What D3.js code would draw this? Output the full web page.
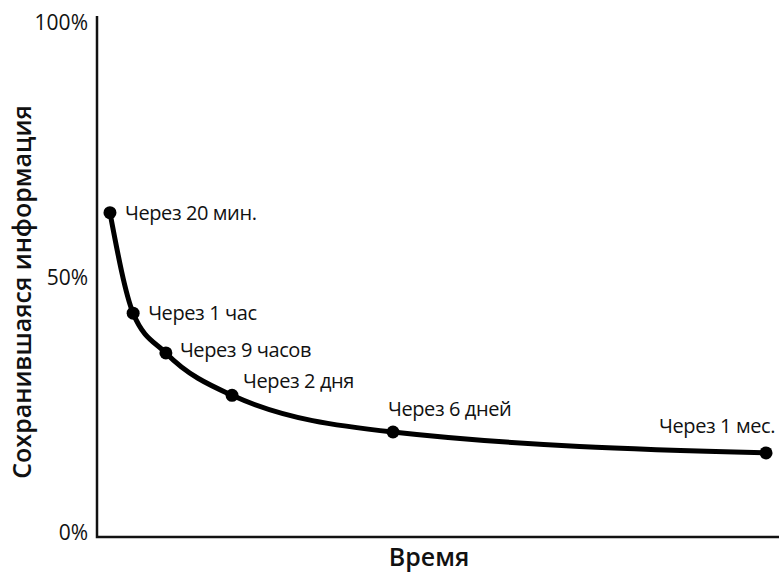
<!DOCTYPE html>
<html>
<head>
  <meta charset="utf-8">
  <script src="https://d3js.org/d3.v7.min.js"></script>
  <style>
    body { margin: 0; background: #fff; }
    text { font-family: "Open Sans", Lato, sans-serif; fill: #111; }
    .tick-label { font-size: 21px; font-weight: 400; }
    .pt-label { font-size: 20px; letter-spacing: -0.4px; }
    .title { font-size: 25px; font-weight: 600; }
  </style>
</head>
<body>
  <script>
    // data
    var labels = ["Через 20 мин.", "Через 1 час", "Через 9 часов", "Через 2 дня", "Через 6 дней", "Через 1 мес."];
    var timePos = [1.9, 5.3, 10.1, 19.8, 43.4, 98.1];   // relative position along time axis (0..100)
    var retained = [62.8, 43.1, 35.3, 27.0, 19.8, 15.7]; // %
    var yTicks = [0, 50, 100];

    // label placement: [anchor, dx, dy]
    var placement = [
      ["start", 15, 0],
      ["start", 15, 0],
      ["start", 14, -3],
      ["start", 11, -14],
      ["start", -5, -23],
      ["end", 9, -27]
    ];

    var W = 779, H = 573;
    var margin = {top: 16, right: 0, bottom: 36, left: 97};

    var svg = d3.select("body").append("svg")
        .attr("width", W)
        .attr("height", H);

    var x = d3.scaleLinear().domain([0, 100]).range([margin.left, W - margin.right]);
    var y = d3.scaleLinear().domain([0, 100]).range([533, 23]);

    var axisY = H - margin.bottom; // 537

    // axes lines
    svg.append("path")
        .attr("d", "M" + margin.left + "," + margin.top + "V" + axisY + "H" + W)
        .attr("fill", "none")
        .attr("stroke", "#111")
        .attr("stroke-width", 2.5);

    svg.selectAll(".tick-label")
        .data(yTicks)
        .enter().append("text")
        .attr("class", "tick-label")
        .attr("x", 88)
        .attr("y", d => y(d))
        .attr("dy", "0.35em")
        .attr("text-anchor", "end")
        .text(d => d + "%");

    var data = labels.map((l, i) => ({label: l, t: timePos[i], v: retained[i]}));

    var line = d3.line()
        .x(d => x(d.t))
        .y(d => y(d.v))
        .curve(d3.curveMonotoneX);

    svg.append("path")
        .datum(data)
        .attr("d", line)
        .attr("fill", "none")
        .attr("stroke", "#000")
        .attr("stroke-width", 5)
        .attr("stroke-linecap", "round");

    svg.selectAll(".dot")
        .data(data)
        .enter().append("circle")
        .attr("class", "dot")
        .attr("cx", d => x(d.t))
        .attr("cy", d => y(d.v))
        .attr("r", 6.5)
        .attr("fill", "#000");

    svg.selectAll(".pt-label")
        .data(data)
        .enter().append("text")
        .attr("class", "pt-label")
        .attr("x", (d, i) => x(d.t) + placement[i][1])
        .attr("y", (d, i) => y(d.v) + placement[i][2])
        .attr("dy", "0.35em")
        .attr("text-anchor", (d, i) => placement[i][0])
        .text(d => d.label);

    svg.append("text")
        .attr("class", "title")
        .attr("x", 429)
        .attr("y", 566)
        .attr("text-anchor", "middle")
        .text("Время");

    svg.append("text")
        .attr("class", "title")
        .attr("transform", "translate(22,292) rotate(-90)")
        .attr("dy", "0.35em")
        .attr("text-anchor", "middle")
        .text("Сохранившаяся информация");
  </script>
</body>
</html>
